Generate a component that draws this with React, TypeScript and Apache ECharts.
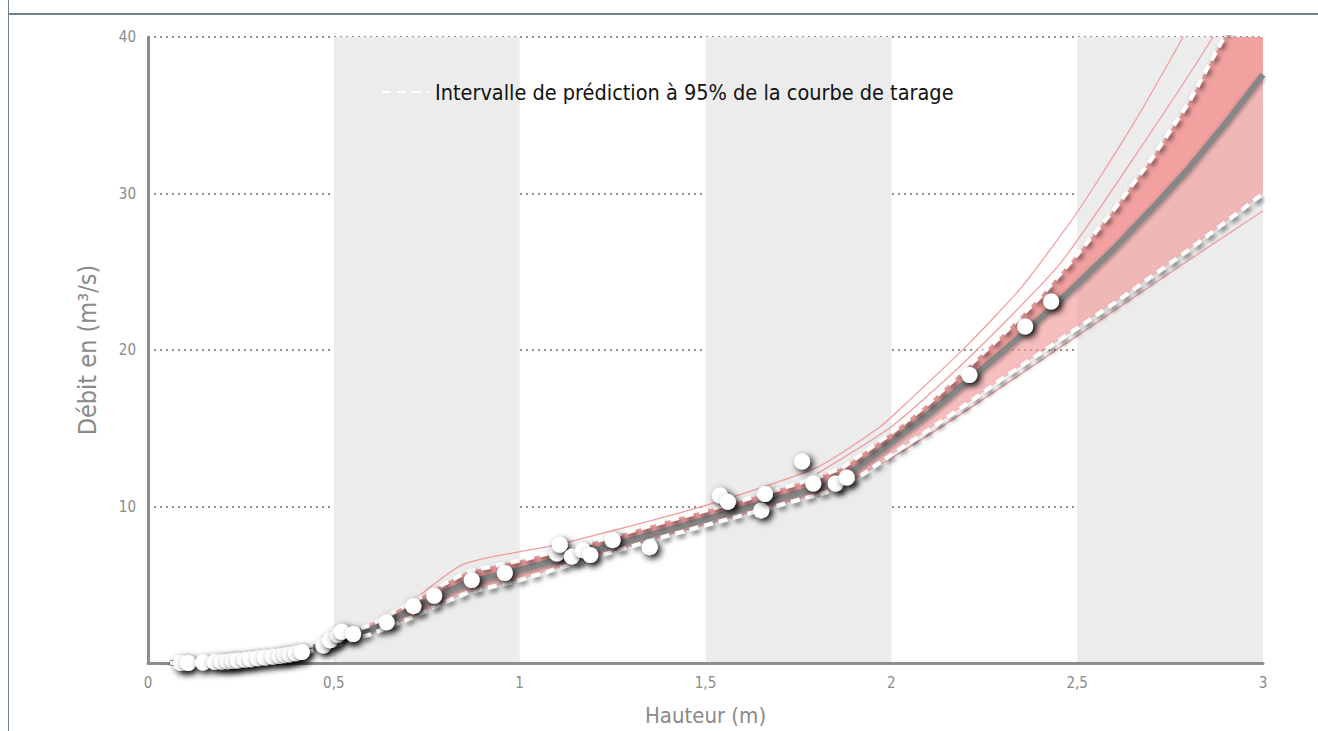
import React, { useEffect, useRef } from "react";
import * as echarts from "echarts";

// Observed gaugings (hauteur m, débit m³/s)
const obsH = [0.089, 0.108, 0.148, 0.18, 0.199, 0.215, 0.229, 0.242, 0.261, 0.277, 0.296, 0.315, 0.336, 0.355, 0.369, 0.382, 0.398, 0.414, 0.472, 0.49, 0.511, 0.521, 0.552, 0.642, 0.714, 0.77, 0.871, 0.96, 1.1, 1.108, 1.14, 1.17, 1.19, 1.25, 1.35, 1.539, 1.56, 1.65, 1.66, 1.76, 1.79, 1.85, 1.88, 2.21, 2.36, 2.43];
const obsQ = [0.0, 0.0, 0.03, 0.06, 0.08, 0.1, 0.13, 0.16, 0.2, 0.24, 0.3, 0.35, 0.4, 0.45, 0.5, 0.55, 0.62, 0.7, 1.12, 1.45, 1.8, 2.0, 1.85, 2.6, 3.63, 4.3, 5.3, 5.75, 7.0, 7.55, 6.8, 7.2, 6.9, 7.85, 7.4, 10.7, 10.3, 9.75, 10.8, 12.87, 11.47, 11.47, 11.85, 18.4, 21.5, 23.1];

// Rating curve (central) and 95% prediction interval on a common height grid
const gridH = [0.06, 0.1, 0.2, 0.3, 0.4, 0.5, 0.6, 0.7, 0.8, 0.86, 1.0, 1.2, 1.4, 1.6, 1.8, 1.87, 2.0, 2.1, 2.2, 2.3, 2.4, 2.5, 2.6, 2.7, 2.8, 2.9, 3.0];
const curveQ = [0, 0.02, 0.1, 0.3, 0.7, 1.3, 2.15, 3.3, 4.5, 5.15, 5.95, 7.2, 8.5, 9.85, 11.2, 11.8, 14.1, 15.9, 17.9, 19.9, 22.0, 24.2, 26.5, 29.0, 31.6, 34.5, 37.6];
const upperQ = [0, 0.05, 0.15, 0.4, 0.85, 1.55, 2.45, 3.75, 5.1, 5.85, 6.55, 7.75, 9.1, 10.4, 11.85, 12.5, 14.7, 16.6, 18.8, 21.0, 23.4, 26.1, 29.0, 32.2, 35.8, 40.2, 45.0];
const lowerQ = [0, 0.0, 0.05, 0.2, 0.55, 1.1, 1.85, 2.8, 3.9, 4.5, 5.3, 6.75, 8.15, 9.45, 10.75, 11.2, 13.3, 14.9, 16.5, 18.2, 19.8, 21.4, 23.0, 24.7, 26.4, 28.2, 30.0];

// Outlying simulated curves (thin pink lines)
const outerAH = [0.5, 0.565, 0.678, 0.848, 1.108, 1.485, 1.8, 1.97, 2.04, 2.2, 2.35, 2.5, 2.65, 2.785, 2.9];
const outerAQ = [1.5, 2.15, 3.4, 6.3, 7.6, 9.96, 12.5, 15.1, 16.6, 20.2, 24.0, 28.8, 34.4, 40, 45];
const outerBH = [1.8, 2.0, 2.2, 2.45, 2.65, 2.865, 2.95];
const outerBQ = [12.1, 15.1, 19.3, 25.4, 32.2, 40, 44];
const outerCH = [1.8, 2.0, 2.2, 2.5, 2.776, 3.0];
const outerCQ = [10.6, 13.1, 16.1, 20.9, 25.35, 28.9];

const xTicks = [0, 0.5, 1, 1.5, 2, 2.5, 3];
const yTicks = [0, 10, 20, 30, 40];

const LEGEND = "Intervalle de prédiction à 95% de la courbe de tarage";
const FONT = "'Liberation Sans Narrow', 'DejaVu Sans Condensed', 'Open Sans', sans-serif";

const pairs = (xs: number[], ys: number[]) => xs.map((x, i) => [x, ys[i]]);

// band polygon between two curves on gridH, through the axis scales
const bandSeries = (name: string, top: number[], bottom: number[], fill: string) => ({
  name,
  type: "custom",
  silent: true,
  clip: true,
  z: 2,
  data: [[gridH[0], bottom[0]]],
  renderItem: (params: any, api: any) => {
    if (params.dataIndex !== 0) return null;
    const pts: number[][] = [];
    for (let i = 0; i < gridH.length; i++) pts.push(api.coord([gridH[i], top[i]]));
    for (let i = gridH.length - 1; i >= 0; i--) pts.push(api.coord([gridH[i], bottom[i]]));
    return { type: "polygon", shape: { points: pts }, style: { fill, stroke: null } };
  },
});

export default function App() {
  const ref = useRef<HTMLDivElement>(null);
  useEffect(() => {
    if (!ref.current) return;
    const chart = echarts.init(ref.current, undefined, { renderer: "svg" });
    const dashStyle = {
      color: "#ffffff",
      width: 4,
      type: [9, 6],
      shadowColor: "rgba(0,0,0,0.65)",
      shadowBlur: 5,
      shadowOffsetX: 2,
      shadowOffsetY: 3,
    };
    const thin = (name: string, xs: number[], ys: number[]) => ({
      name,
      type: "line",
      data: pairs(xs, ys),
      showSymbol: false,
      symbol: "none",
      smooth: 0.2,
      silent: true,
      lineStyle: { color: "#f09a9a", width: 1.2 },
      z: 3,
    });
    chart.setOption({
      animation: false,
      textStyle: { fontFamily: FONT },
      grid: { left: 148, right: 55, top: 37, bottom: 62, containLabel: false },
      legend: {
        show: true,
        data: [{ name: LEGEND, itemStyle: { opacity: 0 } }],
        left: 376,
        top: 76,
        itemWidth: 48,
        itemHeight: 14,
        itemGap: 6,
        textStyle: { fontSize: 21.5, color: "#111", fontFamily: FONT },
        selectedMode: false,
      },
      xAxis: {
        type: "value",
        min: xTicks[0],
        max: xTicks[xTicks.length - 1],
        interval: 0.5,
        name: "Hauteur (m)",
        nameLocation: "middle",
        nameGap: 41,
        nameTextStyle: { fontSize: 22, color: "#8a8a8a", fontFamily: FONT },
        axisLine: { show: true, lineStyle: { color: "#8c8c8c", width: 3 } },
        axisTick: { show: false },
        axisLabel: {
          color: "#8a8a8a",
          fontSize: 15,
          margin: 12,
          formatter: (v: number) => String(v).replace(".", ","),
        },
        splitLine: { show: false },
        splitArea: { show: true, areaStyle: { color: ["rgba(255,255,255,0)", "#ececec"] } },
      },
      yAxis: {
        type: "value",
        min: yTicks[0],
        max: yTicks[yTicks.length - 1],
        interval: 10,
        name: "Débit en (m³/s)",
        nameLocation: "middle",
        nameGap: 48,
        nameTextStyle: { fontSize: 25, color: "#8a8a8a", fontFamily: FONT },
        axisLine: { show: true, lineStyle: { color: "#8c8c8c", width: 3 } },
        axisTick: { show: false },
        axisLabel: {
          color: "#8a8a8a",
          fontSize: 15,
          margin: 12,
          formatter: (v: number) => (v === 0 ? "" : String(v)),
        },
        splitLine: { show: true, showMinLine: false, lineStyle: { color: "#8f8f8f", width: 2, type: [2, 4] } },
      },
      series: [
        bandSeries("fanLow", curveQ, lowerQ, "rgba(242,150,150,0.62)"),
        bandSeries("fanHigh", upperQ, curveQ, "#f2a0a0"),
        thin("outerA", outerAH, outerAQ),
        thin("outerB", outerBH, outerBQ),
        thin("outerC", outerCH, outerCQ),
        {
          name: "courbe",
          type: "line",
          data: pairs(gridH, curveQ),
          symbol: "none",
          smooth: false,
          silent: true,
          lineStyle: {
            color: "#878787",
            width: 6,
            shadowColor: "rgba(0,0,0,0.4)",
            shadowBlur: 4,
            shadowOffsetY: 2,
          },
          z: 4,
        },
        {
          name: LEGEND,
          type: "line",
          data: pairs(gridH, upperQ),
          symbol: "none",
          smooth: false,
          silent: true,
          lineStyle: dashStyle,
          itemStyle: { color: "#ffffff" },
          z: 5,
        },
        {
          name: LEGEND,
          type: "line",
          data: pairs(gridH, lowerQ),
          symbol: "none",
          smooth: false,
          silent: true,
          lineStyle: dashStyle,
          itemStyle: { color: "#ffffff" },
          z: 5,
        },
        {
          name: "jaugeages",
          type: "scatter",
          data: pairs(obsH, obsQ),
          symbol: "circle",
          symbolSize: 16,
          silent: true,
          itemStyle: {
            color: "#ffffff",
            opacity: 1,
            shadowColor: "rgba(0,0,0,1)",
            shadowBlur: 7,
            shadowOffsetX: 3,
            shadowOffsetY: 3,
          },
          z: 6,
        },
      ],
    });
    return () => chart.dispose();
  }, []);
  return (
    <div style={{ position: "absolute", left: 0, top: 0, width: 1318, height: 731, overflow: "hidden", background: "#fff" }}>
      <div style={{ position: "absolute", left: 8, top: 0, width: 1, height: 731, background: "#6e808d" }} />
      <div style={{ position: "absolute", left: 8, top: 13, width: 1310, height: 2, background: "#6e808d" }} />
      <div ref={ref} style={{ position: "absolute", left: 0, top: 0, width: 1318, height: 731 }} />
    </div>
  );
}
